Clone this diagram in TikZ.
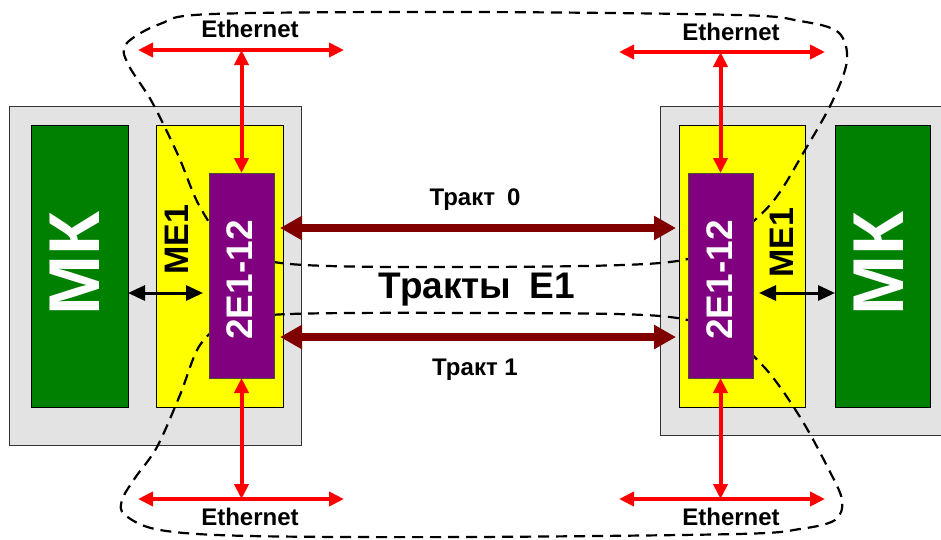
\documentclass[tikz,border=0pt]{standalone}
\usepackage{fontspec}
\setmainfont{Liberation Sans}
\usetikzlibrary{arrows.meta}

\definecolor{chassisgray}{RGB}{227,227,227}
\definecolor{mkgreen}{RGB}{0,128,0}
\definecolor{moduleyellow}{RGB}{255,255,0}
\definecolor{e1purple}{RGB}{128,0,128}
\definecolor{trunkred}{RGB}{128,0,0}

\begin{document}
\begin{tikzpicture}[x=1pt,y=-1pt,
    chassis/.style={draw=black!80, fill=chassisgray, line width=1pt, inner sep=0pt, outer sep=0pt},
    mkbox/.style={draw=black, fill=mkgreen, line width=1pt, inner sep=0pt, outer sep=0pt,
        minimum height=282pt},
    mebox/.style={draw=black, fill=moduleyellow, line width=1pt, inner sep=0pt, outer sep=0pt,
        minimum height=282pt},
    e1box/.style={draw=black!60!olive, fill=e1purple, line width=1pt, inner sep=0pt, outer sep=0pt,
        minimum width=65pt, minimum height=205pt},
    loop/.style={black, line width=2.2pt, dash pattern=on 11pt off 7pt},
    ether/.style={red, line width=4pt, {Triangle[length=15pt,width=14pt]}-{Triangle[length=15pt,width=14pt]}},
    trunk/.style={trunkred, line width=8pt, {Triangle[length=22pt,width=23pt]}-{Triangle[length=22pt,width=23pt]}},
    link/.style={black, line width=3pt, {Triangle[length=17pt,width=15pt]}-{Triangle[length=17pt,width=15pt]}},
    lbl/.style={inner sep=0pt, font=\bfseries\fontsize{24}{24}\selectfont}]

    \useasboundingbox (0,0) rectangle (941,539);
    \clip (0,0) rectangle (941,539);

    % Boxes
    \node[chassis, minimum width=292pt, minimum height=339pt] (lchassis) at (155,275.5) {};
    \node[chassis, minimum width=285pt, minimum height=329pt] (rchassis) at (802.5,270.5) {};
    \node[mkbox, minimum width=97pt] (lmk) at (79.5,266) {};
    \node[mkbox, minimum width=95pt] (rmk) at (882.5,266) {};
    \node[mebox, minimum width=127pt] (lme) at (219.5,266) {};
    \node[mebox, minimum width=126pt] (rme) at (742,266) {};

    % Loops
    \draw[loop] plot[smooth cycle, tension=0.55] coordinates {
        (230,245) (290,264) (470,267) (660,263) (720,245) (770,205) (805,150)
        (833,100) (847,60) (838,32) (800,21) (737,15) (470,12) (213,14)
        (160,24) (126,44) (128,64) (152,102) (178,155) (200,207)};
    \draw[loop] plot[smooth cycle, tension=0.55] coordinates {
        (230,322) (290,314) (470,313) (660,316) (725,335) (765,368) (800,417)
        (828,468) (842,500) (835,520) (800,529) (737,534) (470,537) (250,536)
        (160,530) (125,515) (122,500) (135,478) (157,447) (180,395) (200,345)};

    \node[e1box] (lmod) at (241.5,275.5) {};
    \node[e1box] (rmod) at (720.5,275.5) {};

    % Ethernet
    \coordinate (ltopw) at (138,50);
    \coordinate (ltope) at (344,50);
    \coordinate (lbotw) at (138,499);
    \coordinate (lbote) at (344,499);
    \coordinate (rtopw) at (619,52);
    \coordinate (rtope) at (825,52);
    \coordinate (rbotw) at (619,499);
    \coordinate (rbote) at (825,499);
    \draw[ether] (ltopw) -- (ltope);
    \draw[ether] (lbotw) -- (lbote);
    \draw[ether] (rtopw) -- (rtope);
    \draw[ether] (rbotw) -- (rbote);
    \draw[ether] (lmod.north |- ltopw) -- (lmod.north);
    \draw[ether] (lmod.south) -- (lmod.south |- lbotw);
    \draw[ether] (rmod.north |- rtopw) -- (rmod.north);
    \draw[ether] (rmod.south) -- (rmod.south |- rbotw);

    % E1 trunks
    \coordinate (t0) at (470,228);
    \coordinate (t1) at (470,337);
    \draw[trunk, shorten <=6pt, shorten >=12pt] (lmod.east |- t0) -- (rmod.west |- t0);
    \draw[trunk, shorten <=6pt, shorten >=12pt] (lmod.east |- t1) -- (rmod.west |- t1);

    % MK links
    \coordinate (mk) at (470,293);
    \draw[link, shorten >=6pt] (lmk.east |- mk) -- (lmod.west |- mk);
    \draw[link, shorten <=6pt] (rmod.east |- mk) -- (rmk.west |- mk);

    % Labels
    \node[lbl] (lethtop) at (250,28.5) {Ethernet};
    \node[lbl] (lethbot) at (250,516.5) {Ethernet};
    \node[lbl] (rethtop) at (731,31.5) {Ethernet};
    \node[lbl] (rethbot) at (731,516.5) {Ethernet};
    \node[lbl] (t0text) at (475,200) {Тракт\enspace 0};
    \node[lbl] (t1text) at (475,370) {Тракт 1};
    \node[lbl, font=\bfseries\fontsize{37}{37}\selectfont] (e1text) at (477,290) {Тракты\enspace E1};
    \node[lbl, rotate=90, font=\bfseries\fontsize{34}{34}\selectfont] (lmetext) at (177,240) {МЕ1};
    \node[lbl, rotate=90, font=\bfseries\fontsize{34}{34}\selectfont] (rmetext) at (782,242.5) {МЕ1};
    \node[lbl, rotate=90, white, font=\bfseries\fontsize{37}{37}\selectfont] (lmodtext) at (240,280) {2E1-12};
    \node[lbl, rotate=90, white, font=\bfseries\fontsize{37}{37}\selectfont] (rmodtext) at (719.5,280) {2E1-12};
    \node[lbl, rotate=90, white, font=\bfseries\fontsize{72}{72}\selectfont] (lmktext) at (75,263.5) {МК};
    \node[lbl, rotate=90, white, font=\bfseries\fontsize{72}{72}\selectfont] (rmktext) at (878.5,263.5) {МК};

\end{tikzpicture}
\end{document}
